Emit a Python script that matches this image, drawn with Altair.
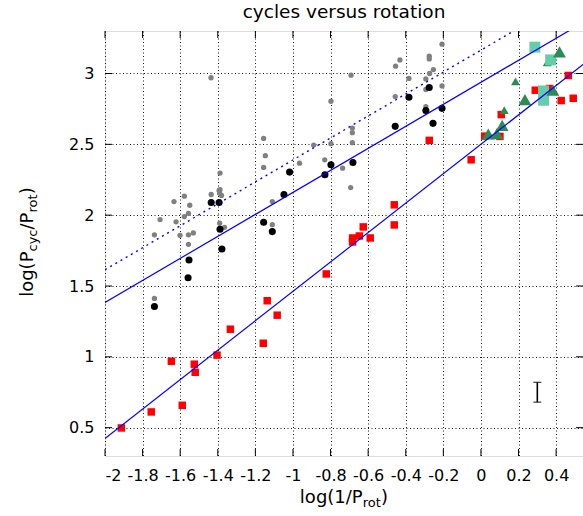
import altair as alt
import pandas as pd

# ---------------- data ----------------
gray_x = [-1.436, -1.388, -1.388, -1.156, -1.147, -1.156, -0.965, -0.890, -0.831, -0.798,
          -0.798, -0.736, -0.684, -0.684, -0.684, -0.691, -0.693, -0.456, -0.454, -0.431,
          -0.383, -0.275, -0.275, -0.207, -0.253, -0.273, -0.293, -0.293, -0.207, -0.293,
          -1.737, -1.737, -1.707, -1.633, -1.622, -1.578, -1.578, -1.601, -1.556, -1.549,
          -1.556, -1.530, -1.556, -1.435, -1.393, -1.390, -1.380, -1.390, -1.364, -1.110,
          -1.110]
gray_y = [2.970, 2.297, 2.180, 2.542, 2.420, 2.337, 2.367, 2.495, 2.391, 2.804,
          2.505, 2.332, 2.615, 2.582, 2.512, 2.988, 2.195, 2.837, 3.052, 3.096,
          2.965, 3.122, 3.103, 3.207, 3.028, 3.000, 2.962, 2.887, 2.912, 2.766,
          1.412, 1.861, 1.969, 2.096, 1.953, 2.134, 1.990, 1.858, 2.013, 2.070,
          1.861, 1.875, 1.794, 2.146, 2.174, 2.155, 2.139, 1.943, 1.914, 2.096,
          1.933]

black_x = [-1.018, -0.830, -0.798, -0.681, -0.456, -0.383, -0.275, -0.293, -0.207, -0.255,
           -1.737, -1.553, -1.558, -1.435, -1.393, -1.388, -1.378, -1.048, -1.156, -1.110]
black_y = [2.304, 2.285, 2.356, 2.372, 2.627, 2.832, 2.901, 2.738, 2.754, 2.648,
           1.355, 1.684, 1.558, 2.089, 2.089, 1.900, 1.761, 2.146, 1.950, 1.884]

red_x = [-1.913, -1.754, -1.647, -1.589, -1.525, -1.520, -1.404, -1.333, -1.158, -1.137,
         -1.084, -0.823, -0.683, -0.683, -0.647, -0.626, -0.589, -0.461, -0.461, -0.275,
         -0.052, 0.020, 0.101, 0.108, 0.289, 0.365, 0.465, 0.427, 0.491]
red_y = [0.498, 0.611, 0.969, 0.658, 0.948, 0.891, 1.012, 1.195, 1.096, 1.396,
         1.294, 1.585, 1.839, 1.811, 1.853, 1.917, 1.839, 2.073, 1.931, 2.528,
         2.391, 2.558, 2.556, 2.710, 2.882, 2.894, 2.986, 2.809, 2.825]

cyan_x = [0.287, 0.371, 0.333, 0.333]
cyan_y = [3.186, 3.096, 2.877, 2.811]

green_big_x = [0.418, 0.383, 0.234, 0.113, 0.039, 0.085]
green_big_y = [3.153, 2.882, 2.816, 2.634, 2.573, 2.575]

green_small_x = [0.353, 0.184, 0.124]
green_small_y = [3.078, 2.945, 2.742]

# fitted lines (end points)
fit_hi_x = [-2.0, 0.6]
fit_hi_y = [1.384, 3.404]
fit_dot_x = [-2.0, 0.6]
fit_dot_y = [1.615, 3.630]
fit_lo_x = [-2.0, 0.6]
fit_lo_y = [0.424, 3.123]

# error bar
err_x = [0.30]
err_lo = [0.68]
err_hi = [0.82]

x_ticks = [-2, -1.8, -1.6, -1.4, -1.2, -1, -0.8, -0.6, -0.4, -0.2, 0, 0.2, 0.4]
y_ticks = [0.5, 1, 1.5, 2, 2.5, 3]

title_text = "cycles versus rotation"

# ---------------- layout ----------------
W, H = 478, 425
FONT = "DejaVu Sans"
FS_MAIN = 18
FS_SUB = 13
XDOM = [-2.0, 0.543]
YDOM = [0.3, 3.3]

xaxis = alt.Axis(values=x_ticks, grid=True, gridDash=[1, 2.5], gridColor="#000",
                 gridOpacity=0.9, ticks=False, tickSize=0, domain=False,
                 labelFont=FONT, labelFontSize=16, labelColor="black",
                 labelPadding=11, labelOverlap=False, title=None,
                 labelExpr="'' + datum.value")
yaxis = alt.Axis(values=y_ticks, grid=True, gridDash=[1, 2.5], gridColor="#000",
                 gridOpacity=0.9, ticks=False, tickSize=0, domain=False,
                 labelFont=FONT, labelFontSize=16, labelColor="black",
                 labelPadding=11, labelOverlap=False, title=None,
                 labelExpr="'' + datum.value")

X = alt.X("x:Q", scale=alt.Scale(domain=XDOM, nice=False, zero=False), axis=xaxis)
Y = alt.Y("y:Q", scale=alt.Scale(domain=YDOM, nice=False, zero=False), axis=yaxis)


def pts(xs, ys, **mark):
    df = pd.DataFrame({"x": xs, "y": ys})
    return alt.Chart(df).mark_point(filled=True, opacity=1, strokeWidth=0, **mark).encode(x=X, y=Y)


def line(xs, ys, **mark):
    df = pd.DataFrame({"x": xs, "y": ys})
    return alt.Chart(df).mark_line(clip=True, color="#0000ff", **mark).encode(x=X, y=Y)


tri = "M-1,0.87L0,-0.87L1,0.87Z"

gray = pts(gray_x, gray_y, shape="circle", size=28, color="#808080")
black = pts(black_x, black_y, shape="circle", size=50, color="#000000")
red = pts(red_x, red_y, shape="square", size=56, color="#ff0000")
gsmall = pts(green_small_x, green_small_y, shape=tri, size=80, color="#2e8b57")
cyan = pts(cyan_x, cyan_y, shape="square", size=120, color="#66cdaa")
gbig = pts(green_big_x, green_big_y, shape=tri, size=165, color="#2e8b57")

l_hi = line(fit_hi_x, fit_hi_y, strokeWidth=1.2)
l_dot = line(fit_dot_x, fit_dot_y, strokeWidth=1.4, strokeDash=[2, 4])
l_lo = line(fit_lo_x, fit_lo_y, strokeWidth=1.2)

err_df = pd.DataFrame({"x": err_x, "y": err_lo, "y2": err_hi})
err_bar = alt.Chart(err_df).mark_rule(color="black", strokeWidth=1.6).encode(x=X, y=Y, y2="y2:Q")
cap_df = pd.DataFrame({"x": err_x * 2, "y": err_lo + err_hi})
err_caps = alt.Chart(cap_df).mark_tick(orient="horizontal", size=8, thickness=1.3,
                                         color="black").encode(x=X, y=Y)

# inward tick marks on all four sides
xt_df = pd.DataFrame({"x": x_ticks})
yt_df = pd.DataFrame({"y": y_ticks})
TL = 7
xt_bot = alt.Chart(xt_df).mark_rule(color="black", strokeWidth=1).encode(
    x=X, y=alt.value(H), y2=alt.value(H - TL))
xt_top = alt.Chart(xt_df).mark_rule(color="black", strokeWidth=1).encode(
    x=X, y=alt.value(0), y2=alt.value(TL))
yt_left = alt.Chart(yt_df).mark_rule(color="black", strokeWidth=1).encode(
    y=Y, x=alt.value(0), x2=alt.value(TL))
yt_right = alt.Chart(yt_df).mark_rule(color="black", strokeWidth=1).encode(
    y=Y, x=alt.value(W), x2=alt.value(W - TL))

# ---------------- text (title and axis titles with subscripts) ----------------
ADV = {"l": 0.278, "o": 0.612, "g": 0.635, "(": 0.390, ")": 0.390, "P": 0.603,
       "/": 0.337, "c": 0.550, "y": 0.592, "r": 0.411, "t": 0.392, "1": 0.636}


def tw(s, fs):
    return sum(ADV.get(ch, 0.6) for ch in s) * fs


def txt(s, px, py, fs, angle=0, align="left", baseline="alphabetic"):
    df = pd.DataFrame({"t": [s]})
    return alt.Chart(df).mark_text(font=FONT, fontSize=fs, color="black", angle=angle,
                                   align=align, baseline=baseline).encode(
        text="t:N", x=alt.value(px), y=alt.value(py))


texts = [txt(title_text, W / 2, -13.5, 18.5, align="center")]

# x title: log(1/P_rot)
xparts = [("log(1/P", FS_MAIN, 0), ("rot", FS_SUB, 4), (")", FS_MAIN, 0)]
total = sum(tw(s, f) for s, f, _ in xparts)
cx = 344 - 105 - total / 2
base_y = 503 - 31
for s, f, d in xparts:
    texts.append(txt(s, cx, base_y + d, f))
    cx += tw(s, f)

# y title: log(P_cyc/P_rot), rotated
yparts = [("log(P", FS_MAIN, 0), ("cyc", FS_SUB, 4), ("/P", FS_MAIN, 0),
          ("rot", FS_SUB, 4), (")", FS_MAIN, 0)]
total = sum(tw(s, f) for s, f, _ in yparts)
cy = 242 - 31 + total / 2
base_x = 33 - 105
for s, f, d in yparts:
    texts.append(txt(s, base_x + d, cy, f, angle=270))
    cy -= tw(s, f)

chart = alt.layer(
    gray, black, red, gsmall, cyan, gbig, l_hi, l_dot, l_lo, err_bar, err_caps,
    xt_bot, xt_top, yt_left, yt_right, *texts
).properties(
    width=W, height=H,
    autosize=alt.AutoSizeParams(type="none"),
    padding={"left": 105, "top": 31, "right": 0, "bottom": 60},
).configure_view(
    stroke="black", strokeWidth=1
).configure(background="white")

chart.save("out.html", embed_options={"renderer": "svg", "actions": False})
